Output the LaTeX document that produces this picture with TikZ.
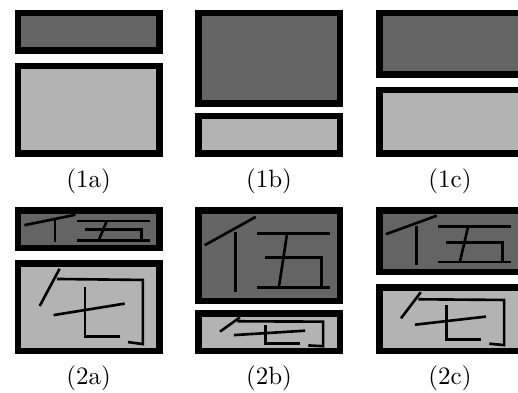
\documentclass[tikz,border=0pt]{standalone}
\definecolor{fonce}{RGB}{100,100,100}
\definecolor{clair}{RGB}{179,179,179}
\usepackage{tikz}
\tikzset{cadre/.style={line width=2.6pt},trait/.style={line width=1.05pt}}
% caracteres traces dans le carre unite (y vers le bas)
\newcommand{\caracwu}{%
  \draw[trait] (0.024,0.377) -- (0.402,0.040);
  \draw[trait] (0.251,0.219) -- (0.251,0.933);
  \draw[trait] (0.414,0.238) -- (0.951,0.238);
  \draw[trait] (0.634,0.238) -- (0.573,0.881);
  \draw[trait] (0.470,0.524) -- (0.890,0.524) -- (0.890,0.881);
  \draw[trait] (0.414,0.881) -- (0.951,0.881);}
\newcommand{\caracgou}{%
  \draw[trait] (0.284,0.029) -- (0.137,0.488);
  \draw[trait] (0.265,0.154) -- (0.901,0.166) -- (0.901,0.958) -- (0.791,0.933);
  \draw[trait] (0.240,0.600) -- (0.767,0.458);
  \draw[trait] (0.473,0.258) -- (0.473,0.863) -- (0.730,0.863);}

\begin{document}
\begin{tikzpicture}[x=0.4pt,y=-0.4pt]
  \useasboundingbox (0,0) rectangle (518,392);
  % ligne 1 : cadres seuls
  \foreach \x/\m/\n/\c in {14.7/54/63/a,195/107/113/b,376/78/87/c}{
    \draw[cadre,fill=fonce] (\x+3.25,13.25) rectangle (\x+144.75,\m-3.25);
    \draw[cadre,fill=clair] (\x+3.25,\n+3.25) rectangle (\x+144.75,153.75);
    \node (l1\c) at (\x+74,181) {(1\c)};
  }
  % ligne 2 : cadres avec caracteres
  \foreach \x/\m/\n/\c in {14.7/54/63/a,195/107/113/b,376/78/87/c}{
    \draw[cadre,fill=fonce] (\x+3.25,210.25) rectangle (\x+144.75,\m+193.75);
    \draw[cadre,fill=clair] (\x+3.25,\n+200.25) rectangle (\x+144.75,350.75);
    \begin{scope}[shift={(\x+6.5,213.5)},xscale=135,yscale=\m-23]
      \caracwu
    \end{scope}
    \begin{scope}[shift={(\x+6.5,\n+203.5)},xscale=135,yscale=144-\n]
      \caracgou
    \end{scope}
    \node (l2\c) at (\x+74,378) {(2\c)};
  }
\end{tikzpicture}
\end{document}
